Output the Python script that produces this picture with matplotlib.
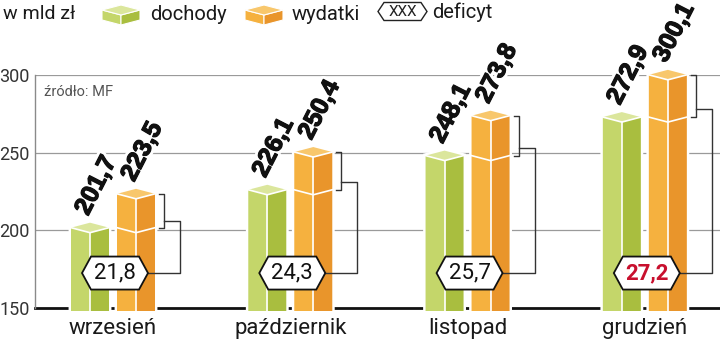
import matplotlib
matplotlib.use("Agg")
import matplotlib.pyplot as plt
from matplotlib.patches import Polygon
from matplotlib import patheffects as pe
from matplotlib import font_manager as fm

months = ["wrzesień", "październik", "listopad", "grudzień"]
dochody = [201.7, 226.1, 248.1, 272.9]
wydatki = [223.5, 250.4, 273.8, 300.1]
deficyt = ["21,8", "24,3", "25,7", "27,2"]
dochody_txt = ["201,7", "226,1", "248,1", "272,9"]
wydatki_txt = ["223,5", "250,4", "273,8", "300,1"]
yticks = [150, 200, 250, 300]

available = {f.name for f in fm.fontManager.ttflist}
def pick(*names):
    for n in names:
        if n in available:
            return n
    return "DejaVu Sans"

BOLD = pick("Liberation Sans", "DejaVu Sans")
REG = pick("Roboto", "Open Sans", "DejaVu Sans")

GREEN = ("#c4d66a", "#a9be3f", "#dbe69c")
ORANGE = ("#f5b13f", "#e9952b", "#f8c76c")

W, H = 720, 342
fig = plt.figure(figsize=(7.2, 3.42), dpi=100)
ax = fig.add_axes([35 / W, (H - 308) / H, (W - 35) / W, (308 - 75) / H])
ax.set_xlim(-0.44, 3.424)
ax.set_ylim(150, 300)

# pixel -> data scale factors
PX_X = (3.424 + 0.44) / (W - 35)
PX_Y = 150 / (308 - 75)

bw = 38 * PX_X
off = 23 * PX_X
d = 5 * PX_Y
bottom = 150 - 3 * PX_Y


def bar3d(xc, v, cols):
    xl, xr = xc - bw / 2, xc + bw / 2
    light, dark, top = cols
    sil = [(xl, bottom), (xl, v), (xc, v + d), (xr, v), (xr, bottom)]
    ax.add_patch(Polygon(sil, closed=True, fc="white", ec="white", lw=3.5,
                         zorder=3, clip_on=False))
    ax.add_patch(Polygon([(xl, bottom), (xl, v), (xc, v - d), (xc, bottom)],
                         fc=light, ec="none", zorder=4, clip_on=False))
    ax.add_patch(Polygon([(xc, bottom), (xc, v - d), (xr, v), (xr, bottom)],
                         fc=dark, ec="none", zorder=4, clip_on=False))
    ax.add_patch(Polygon([(xl, v), (xc, v + d), (xr, v), (xc, v - d)],
                         fc=top, ec="none", zorder=4, clip_on=False))
    ax.plot([xl, xc, xr], [v, v - d, v], color="white", lw=1.2, zorder=5,
            clip_on=False)
    ax.plot([xc, xc], [bottom, v - d], color="white", lw=1.2, zorder=5,
            clip_on=False)


def hexagon(xc, yc, w, h, tip):
    pts = [(xc - w / 2, yc), (xc - w / 2 + tip, yc + h / 2),
           (xc + w / 2 - tip, yc + h / 2), (xc + w / 2, yc),
           (xc + w / 2 - tip, yc - h / 2), (xc - w / 2 + tip, yc - h / 2)]
    return pts


# white halo cuts the gridlines, thin dark stroke makes the digits heavier
stroke = [pe.withStroke(linewidth=5, foreground="white"),
          pe.withStroke(linewidth=0.9, foreground="#111111")]
hex_y = 172.5
hex_w = 66 * PX_X
hex_h = 33 * PX_Y
hex_tip = 9 * PX_X

for i, m in enumerate(months):
    g, o = dochody[i], wydatki[i]
    xg, xo = i - off, i + off
    bar3d(xg, g, GREEN)
    bar3d(xo, o, ORANGE)
    # level of income marked on the expenses bar
    ax.plot([xo - bw / 2, xo, xo + bw / 2], [g, g - d, g], color="white",
            lw=1.2, zorder=5, clip_on=False)

    for xc, v, t in [(xg, g, dochody_txt[i]), (xo, o, wydatki_txt[i])]:
        ax.text(xc + 6 * PX_X, v + 9 * PX_Y, t, rotation=63, ha="center",
                va="bottom", fontsize=18, fontweight="bold", family=BOLD,
                color="#111111", path_effects=stroke, zorder=6, clip_on=False)

    # bracket showing the deficit
    xb = xo + bw / 2 + 9 * PX_X
    tick = 5 * PX_X
    ax.plot([xb - tick, xb, xb, xb - tick], [o, o, g, g], color="#333333",
            lw=1, zorder=5, clip_on=False)
    yc = o - 0.8 * (o - g)
    hx = i + 2 * PX_X
    ax.plot([xb, xb + 16 * PX_X, xb + 16 * PX_X, hx + hex_w / 2],
            [yc, yc, hex_y, hex_y], color="#333333", lw=1, zorder=5,
            clip_on=False)
    ax.add_patch(Polygon(hexagon(hx, hex_y, hex_w, hex_h, hex_tip),
                         fc="white", ec="#111111", lw=1.3, zorder=7,
                         clip_on=False))
    last = i == len(months) - 1
    ax.text(hx, hex_y, deficyt[i], ha="center", va="center", fontsize=16,
            family=REG, color="#c8102e" if last else "#111111",
            fontweight="bold" if last else "normal", zorder=8)

ax.set_xticks(range(len(months)))
ax.set_xticklabels(months, fontsize=16, family=REG, color="#1a1a1a")
ax.tick_params(axis="x", length=0, pad=7)
ax.set_yticks(yticks)
ax.set_yticklabels([str(t) for t in yticks], fontsize=13, family=REG,
                   color="#333333")
ax.tick_params(axis="y", length=0, pad=4)
for y in yticks[1:]:
    ax.axhline(y, color="#9a9a9a", lw=0.9, zorder=1)
for s in ["top", "right"]:
    ax.spines[s].set_visible(False)
ax.spines["left"].set_color("#8a8a8a")
ax.spines["left"].set_linewidth(1)
ax.spines["bottom"].set_color("#111111")
ax.spines["bottom"].set_linewidth(2)
ax.spines["bottom"].set_zorder(2)

ax.text(-0.44 + 9 * PX_X, 289, "źródło: MF", fontsize=10.5, family=REG,
        color="#555555", va="center", ha="left")

# legend along the top edge, positioned in figure pixels
def fx(px):
    return px / W

def fy(py):
    return 1 - py / H

fig.text(fx(3), fy(14), "w mld zł", fontsize=14, family=REG, va="center",
         color="#1a1a1a")


def cube(x0, x1, y0, y1, cols):
    light, dark, top = cols
    xm = (x0 + x1) / 2
    dd = 5
    pts_top = [(x0, y0 + dd), (xm, y0), (x1, y0 + dd), (xm, y0 + 2 * dd)]
    pts_l = [(x0, y0 + dd), (xm, y0 + 2 * dd), (xm, y1), (x0, y1 - dd)]
    pts_r = [(xm, y0 + 2 * dd), (x1, y0 + dd), (x1, y1 - dd), (xm, y1)]
    for pts, c in [(pts_l, light), (pts_r, dark), (pts_top, top)]:
        fig.patches.append(Polygon([(fx(a), fy(b)) for a, b in pts],
                                   closed=True, fc=c, ec="white", lw=0.8,
                                   transform=fig.transFigure))


cube(102, 140, 5, 25, GREEN)
fig.text(fx(150), fy(14), "dochody", fontsize=14.5, family=REG, va="center",
         color="#1a1a1a")
cube(245, 283, 5, 25, ORANGE)
fig.text(fx(292), fy(14), "wydatki", fontsize=14.5, family=REG, va="center",
         color="#1a1a1a")
hx_pts = hexagon(402.5, 11.5, 49, 18, 6)
fig.patches.append(Polygon([(fx(a), fy(b)) for a, b in hx_pts], closed=True,
                           fc="white", ec="#222222", lw=1,
                           transform=fig.transFigure))
fig.text(fx(402.5), fy(11.5), "XXX", fontsize=11, family=REG, ha="center",
         va="center", color="#222222")
fig.text(fx(432), fy(12.5), "deficyt", fontsize=14.5, family=REG, va="center",
         color="#1a1a1a")

fig.savefig("out.png", dpi=100)
